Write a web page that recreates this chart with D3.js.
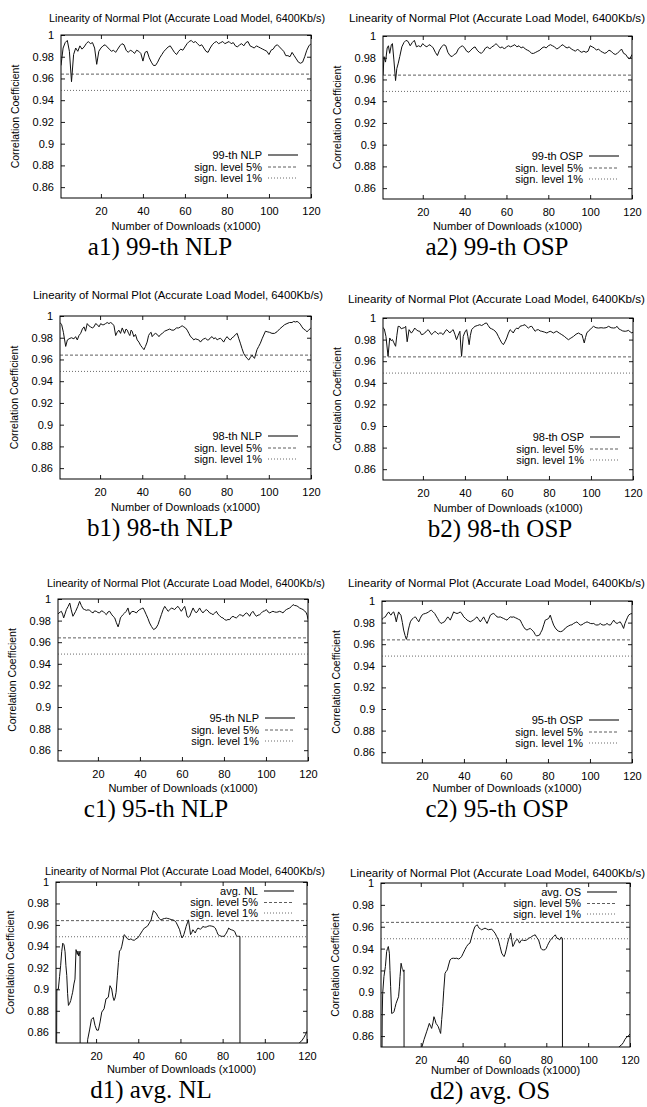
<!DOCTYPE html>
<html>
<head>
<meta charset="utf-8">
<script src="https://cdn.jsdelivr.net/npm/d3@7"></script>
<style>
  html, body { margin: 0; padding: 0; background: #fff; }
  svg { display: block; }
  text { font-family: "Liberation Sans", Arial, Helvetica, sans-serif; fill: #000; }
  .caption { font-family: "Liberation Serif", "Times New Roman", serif; }
</style>
</head>
<body>
<svg id="fig" width="647" height="1107"></svg>
<script>
// Axis ticks shared by every panel
const yTicks = [0.86, 0.88, 0.9, 0.92, 0.94, 0.96, 0.98, 1];
const xTicks = [20, 40, 60, 80, 100, 120];
const yRange = [0.85, 1];
const xRange = [1, 120];

// Critical values of the correlation coefficient
const level5 = 0.964;
const level1 = 0.949;

const chartTitle = "Linearity of Normal Plot (Accurate Load Model, 6400Kb/s)";
const xLabel = "Number of Downloads (x1000)";
const yLabel = "Correlation Coefficient";
const level5Label = "sign. level 5%";
const level1Label = "sign. level 1%";

// [downloads (x1000), correlation coefficient]
const nlp99 = [[1,.972],[2,.988],[3,.993],[4,.995],[5,.985],[6,.957],[7,.982],[8,.988],[9,.985],[10,.990],[11,.987],[12,.989],[13,.992],[14,.994],[15,.992],[16,.993],[17,.988],[18,.973],[19,.985],[20,.988],[21,.990],[22,.991],[23,.989],[24,.987],[25,.985],[26,.986],[27,.984],[28,.987],[29,.990],[30,.992],[31,.991],[32,.986],[33,.984],[34,.986],[35,.985],[36,.983],[37,.986],[38,.985],[39,.983],[40,.976],[41,.984],[42,.985],[43,.979],[44,.975],[45,.972],[46,.972],[47,.975],[48,.979],[49,.982],[50,.985],[51,.987],[52,.989],[53,.990],[54,.987],[55,.984],[56,.982],[57,.985],[58,.987],[59,.986],[60,.989],[61,.992],[62,.994],[63,.995],[64,.993],[65,.994],[66,.992],[67,.990],[68,.991],[69,.988],[70,.985],[71,.984],[72,.988],[73,.991],[74,.993],[75,.994],[76,.992],[77,.993],[78,.994],[79,.992],[80,.993],[81,.994],[82,.992],[83,.993],[84,.990],[85,.989],[86,.991],[87,.992],[88,.990],[89,.993],[90,.994],[91,.990],[92,.989],[93,.988],[94,.990],[95,.989],[96,.988],[97,.987],[98,.986],[99,.985],[100,.982],[101,.986],[102,.987],[103,.990],[104,.991],[105,.989],[106,.987],[107,.985],[108,.981],[109,.981],[110,.980],[111,.984],[112,.981],[113,.978],[114,.975],[115,.974],[116,.975],[117,.980],[118,.986],[119,.990],[120,.992]];

const osp99 = [[1,.964],[1.5,.981],[2.2,.976],[3,.989],[3.6,.991],[4.2,.984],[5,.992],[5.5,.993],[6.2,.978],[7,.959],[7.6,.970],[8.3,.975],[9,.981],[10,.990],[11,.994],[12,.996],[13,.995],[14,.991],[15,.994],[16,.996],[17,.990],[18,.991],[19,.990],[20,.993],[21,.991],[22,.990],[23,.992],[24,.991],[25,.989],[26,.985],[27,.982],[28,.987],[29,.990],[30,.992],[31,.991],[32,.985],[33,.982],[34,.981],[35,.983],[36,.984],[37,.988],[38,.990],[39,.991],[40,.989],[41,.986],[42,.985],[43,.987],[44,.989],[45,.990],[46,.987],[47,.985],[48,.984],[49,.986],[50,.989],[51,.990],[52,.988],[53,.990],[54,.991],[55,.993],[56,.991],[57,.989],[58,.990],[59,.988],[60,.990],[61,.991],[62,.990],[63,.991],[64,.992],[65,.990],[66,.991],[67,.989],[68,.990],[69,.988],[70,.987],[71,.986],[72,.984],[73,.984],[74,.985],[75,.986],[76,.987],[77,.989],[78,.990],[79,.989],[80,.991],[81,.992],[82,.991],[83,.990],[84,.988],[85,.989],[86,.991],[87,.992],[88,.990],[89,.989],[90,.990],[91,.988],[92,.987],[93,.986],[94,.988],[95,.986],[96,.985],[97,.986],[98,.985],[99,.986],[100,.991],[101,.990],[102,.989],[103,.987],[104,.988],[105,.986],[106,.985],[107,.984],[108,.985],[109,.987],[110,.986],[111,.984],[112,.983],[113,.984],[114,.986],[115,.988],[116,.984],[117,.983],[118,.980],[119,.979],[120,.983]];

const nlp98 = [[1,.994],[1.8,.992],[2.6,.985],[3.7,.972],[4.5,.978],[5.3,.979],[6.4,.980],[7.6,.979],[8.4,.981],[9.2,.978],[10,.982],[10.8,.984],[11.6,.988],[12.4,.990],[13.1,.986],[13.9,.993],[14.7,.991],[15.5,.990],[16.3,.989],[17.1,.990],[17.9,.993],[18.7,.992],[19.5,.990],[20.3,.993],[21,.992],[21.8,.992],[22.6,.993],[23.4,.994],[24.2,.993],[25,.994],[25.8,.993],[26.6,.991],[27.4,.982],[28.1,.985],[28.9,.987],[29.7,.984],[30.5,.989],[31.6,.984],[32.3,.988],[32.9,.987],[33.5,.984],[34.1,.982],[34.7,.987],[35.2,.986],[36,.981],[36.8,.983],[37.6,.978],[38.4,.976],[39.2,.973],[40,.971],[40.8,.969],[41.5,.972],[42.3,.976],[43,.982],[43.6,.984],[44.2,.985],[44.7,.981],[45.5,.983],[46.3,.984],[47.1,.983],[47.9,.981],[48.7,.983],[49.5,.984],[50.6,.986],[51.8,.987],[53,.988],[54,.987],[55,.987],[56.2,.989],[57.3,.989],[58.1,.990],[58.9,.991],[59.7,.990],[60.5,.989],[61.3,.987],[62.1,.984],[62.9,.981],[63.6,.980],[64.4,.978],[65.2,.979],[66,.9785],[66.8,.978],[67.6,.976],[68.4,.978],[69.2,.979],[70,.9795],[70.8,.978],[71.5,.978],[72.3,.980],[73.1,.981],[73.9,.979],[74.7,.980],[75.5,.978],[76.3,.979],[77.1,.9795],[77.8,.978],[78.6,.976],[79.4,.979],[80.2,.981],[81,.979],[81.8,.978],[82.6,.980],[83.4,.981],[84.2,.983],[85,.984],[85.8,.979],[86.5,.975],[87.3,.970],[88.1,.9655],[88.9,.963],[89.7,.961],[90.5,.9595],[91.3,.962],[92.1,.964],[92.7,.962],[93.2,.961],[93.8,.965],[94.4,.969],[95.2,.972],[96,.975],[96.8,.979],[97.6,.9825],[98.4,.986],[99.2,.9855],[100.3,.985],[101.5,.984],[102.7,.984],[103.9,.9855],[105.1,.988],[106.3,.990],[107.5,.992],[108.6,.993],[109.8,.994],[111,.994],[111.8,.995],[112.6,.9945],[113.4,.995],[114.2,.994],[114.9,.9925],[115.7,.990],[116.5,.988],[117.3,.987],[118.1,.9855],[118.9,.987],[119.7,.9885],[120,.989]];

const osp98 = [[1,.991],[1.6,.990],[2.4,.983],[3.4,.9645],[4.2,.9815],[4.9,.979],[5.5,.980],[6.2,.977],[7,.9738],[7.6,.984],[8.2,.9923],[9,.992],[9.7,.990],[10.5,.9907],[11.2,.991],[11.8,.9923],[12.5,.978],[13.4,.9892],[14.5,.986],[15.3,.988],[16.1,.9907],[16.9,.989],[17.7,.988],[18.5,.9877],[19.3,.9846],[20.1,.985],[20.9,.9861],[21.7,.988],[22.5,.9892],[23.3,.987],[24.1,.9846],[24.9,.986],[25.7,.9877],[26.5,.9865],[27.3,.985],[28,.9861],[28.8,.986],[29.6,.9846],[30.4,.987],[31.2,.9892],[32,.988],[32.8,.9861],[33.6,.988],[34.4,.9892],[35.2,.985],[36,.9799],[36.8,.984],[37.6,.9877],[38,.975],[38.4,.9645],[39.2,.983],[40,.987],[40.8,.9892],[41.4,.983],[42,.9753],[42.6,.984],[43.2,.9892],[44,.991],[44.8,.9923],[45.9,.993],[47.1,.9938],[47.9,.993],[48.7,.9938],[49.5,.995],[50.3,.9954],[51.1,.993],[51.9,.9907],[52.7,.990],[53.5,.9892],[54.3,.988],[55.1,.9861],[55.9,.983],[56.7,.9799],[57.5,.977],[58.3,.9753],[59.1,.978],[59.9,.9815],[60.7,.986],[61.5,.9892],[62.2,.988],[63,.9861],[63.8,.989],[64.6,.9907],[65.4,.990],[66.2,.9923],[67.4,.993],[68.6,.9938],[69.4,.992],[70.2,.9907],[71,.992],[71.8,.9923],[72.6,.990],[73.4,.9877],[74.2,.989],[75,.9892],[75.8,.988],[76.6,.9877],[77.8,.987],[79,.9861],[79.8,.987],[80.6,.9877],[81.4,.987],[82.1,.9861],[82.9,.987],[83.7,.9877],[84.9,.986],[86.1,.9846],[87.3,.983],[88.5,.981],[89.3,.9799],[90.1,.981],[90.9,.982],[91.7,.983],[92.9,.985],[94.1,.9861],[94.9,.985],[95.7,.9846],[96.2,.981],[96.8,.9769],[97.4,.982],[98,.9861],[98.8,.988],[99.6,.9892],[100.4,.991],[101.2,.9923],[102.4,.991],[103.6,.9907],[104.8,.991],[106,.9907],[107.2,.991],[108.4,.9923],[109.6,.991],[110.8,.9907],[111.6,.991],[112.4,.9923],[113.2,.990],[114,.9892],[115.1,.988],[116.3,.9877],[117.1,.988],[117.9,.9886],[118.7,.987],[119.5,.9861],[120,.987]];

const nlp95 = [[1,.986],[1.5,.9871],[2.1,.988],[2.6,.9886],[3.2,.986],[3.7,.9825],[4.3,.986],[5,.9902],[5.8,.993],[6.6,.9963],[7.3,.990],[8.1,.984],[8.7,.986],[9.4,.9886],[10.4,.993],[11.3,.9978],[12.1,.994],[12.9,.991],[13.7,.9902],[14.5,.9895],[15.3,.990],[16.1,.9895],[16.9,.988],[17.7,.9871],[18.4,.989],[19.2,.9886],[20,.9875],[20.8,.9871],[21.6,.989],[22.4,.9886],[23.2,.987],[24,.9855],[24.8,.988],[25.6,.9886],[26.4,.986],[27.2,.984],[28,.9825],[28.8,.978],[29.6,.9742],[30.2,.978],[30.7,.9825],[31.3,.984],[31.9,.9855],[32.7,.987],[33.5,.9886],[34.3,.9917],[35.1,.9855],[35.9,.988],[36.7,.9886],[37.5,.988],[38.3,.9871],[39.1,.989],[39.9,.9902],[40.7,.991],[41.5,.9917],[42.2,.989],[43,.9855],[43.8,.982],[44.6,.9778],[45.5,.9745],[46.5,.9717],[47.6,.973],[48.6,.9763],[49.4,.981],[50.2,.9855],[51,.990],[51.8,.9932],[52.6,.991],[53.4,.9886],[54.2,.990],[55,.9917],[55.8,.991],[56.5,.9902],[57.3,.992],[58.1,.9932],[58.9,.991],[59.7,.9886],[60.5,.991],[61.3,.9932],[61.9,.989],[62.4,.984],[63,.983],[63.7,.984],[64.5,.988],[65.3,.9917],[66,.989],[66.8,.9871],[67.6,.989],[68.4,.9917],[69.2,.989],[70,.9871],[70.8,.989],[71.6,.9902],[72.4,.989],[73.2,.9871],[74,.9865],[74.8,.9855],[75.6,.987],[76.4,.9886],[77.1,.986],[77.9,.9846],[78.7,.983],[79.5,.9825],[80.3,.981],[81.1,.9803],[81.9,.981],[82.7,.9809],[83.5,.983],[84.3,.984],[85.1,.983],[85.9,.9825],[86.7,.984],[87.5,.9855],[88.3,.985],[89.1,.984],[89.9,.986],[90.7,.9871],[91.5,.986],[92.2,.984],[93,.987],[93.8,.9886],[94.6,.986],[95.4,.984],[96.2,.985],[97,.9855],[97.8,.987],[98.6,.9886],[99.4,.989],[100.2,.9902],[101,.988],[101.8,.9871],[102.6,.988],[103.3,.9886],[104.1,.988],[104.9,.9877],[105.7,.988],[106.5,.9886],[107.3,.988],[108.1,.9871],[108.9,.989],[109.7,.9902],[110.5,.991],[111.3,.9917],[112.1,.993],[112.9,.9948],[113.6,.994],[114.4,.9938],[115.2,.993],[116,.9917],[116.8,.991],[117.6,.9902],[118.4,.989],[119.2,.9871],[119.6,.985],[120,.9809]];

const osp95 = [[1,.983],[1.5,.9838],[2.1,.985],[2.6,.9853],[3.4,.988],[4.2,.9899],[4.7,.988],[5.3,.9869],[5.9,.989],[6.6,.9899],[7.2,.986],[7.8,.9807],[8.4,.986],[8.9,.9899],[9.5,.988],[10,.9869],[10.7,.980],[11.3,.9731],[12,.968],[12.6,.9645],[13.1,.968],[13.5,.9731],[14,.977],[14.5,.9807],[15.2,.983],[15.8,.9838],[16.4,.985],[16.9,.9853],[17.7,.983],[18.5,.9807],[19.2,.984],[20,.9869],[20.8,.988],[21.6,.9884],[22.4,.989],[23.2,.9899],[23.9,.991],[24.5,.9914],[25.3,.990],[26.1,.9884],[26.8,.986],[27.5,.9838],[28.3,.981],[29.1,.9792],[29.9,.980],[30.7,.9807],[31.5,.983],[32.3,.9853],[32.9,.984],[33.5,.9823],[34.3,.986],[35.1,.9899],[35.9,.989],[36.7,.9884],[37.5,.989],[38.3,.9899],[39.1,.988],[39.9,.9853],[40.7,.984],[41.5,.9823],[42.3,.9815],[43,.9807],[43.8,.9815],[44.6,.9823],[45.4,.984],[46.2,.9853],[47,.983],[47.8,.9807],[48.6,.983],[49.4,.9853],[50.2,.982],[51,.9792],[51.8,.983],[52.6,.9869],[53.4,.988],[54.2,.9884],[55,.987],[55.7,.9853],[56.5,.985],[57.3,.9853],[58.1,.9845],[58.9,.9838],[59.7,.983],[60.5,.9823],[61.3,.984],[62.1,.9853],[62.9,.985],[63.7,.9853],[64.5,.9845],[65.3,.9838],[66,.983],[66.8,.9823],[67.6,.979],[68.4,.9761],[69.2,.974],[70,.9731],[70.8,.974],[71.6,.9746],[72.4,.973],[73.2,.9716],[73.9,.969],[74.5,.9676],[75.3,.968],[76,.9685],[76.6,.971],[77.2,.9731],[78,.978],[78.7,.9823],[79.5,.983],[80.3,.9838],[81.1,.9869],[81.9,.982],[82.7,.9777],[83.5,.975],[84.3,.9731],[85.1,.972],[85.9,.9716],[86.7,.972],[87.5,.9731],[88.3,.975],[89.1,.9761],[89.9,.977],[90.6,.9777],[91.4,.978],[92.2,.9792],[93,.980],[93.8,.9807],[94.6,.979],[95.4,.9777],[96.2,.978],[97,.9792],[97.8,.980],[98.6,.9807],[99.4,.980],[100.2,.9792],[101,.979],[101.8,.9792],[102.6,.978],[103.3,.9777],[104.1,.978],[104.9,.9792],[105.7,.978],[106.5,.9777],[107.3,.978],[108.1,.9792],[108.9,.978],[109.7,.9777],[110.5,.980],[111.3,.9823],[112.1,.980],[112.9,.9792],[113.6,.980],[114.4,.9807],[115.2,.978],[116,.9746],[116.6,.979],[117.3,.9823],[117.9,.985],[118.4,.9869],[119.2,.988],[120,.9884]];

// Averages drop far below the plotted range in places; those stretches are clipped
const avgNL = [[1,.70],[1.4,.900],[2.1,.900],[2.7,.912],[3.2,.922],[3.7,.935],[4.2,.943],[4.8,.9415],[5.3,.935],[5.7,.922],[6.1,.913],[6.5,.896],[6.9,.885],[7.5,.887],[8,.8896],[8.5,.894],[8.9,.8973],[9.5,.905],[10,.9095],[10.5,.937],[11.1,.9325],[11.4,.9356],[11.8,.931],[12.1,.9325],[12.4,.9356],[12.6,.52],[14,.61],[15,.77],[16,.853],[17,.863],[17.8,.872],[18.7,.8738],[19.5,.8664],[20.3,.862],[21.1,.8619],[21.9,.8696],[22.7,.8788],[23.8,.8819],[24.7,.8911],[25.8,.8926],[26.6,.9034],[27.4,.9003],[28,.893],[28.5,.8896],[29,.892],[29.5,.8972],[30.1,.9126],[30.6,.925],[31.1,.9356],[31.7,.937],[32.2,.9402],[32.8,.946],[33.3,.9509],[34.1,.9494],[34.9,.947],[35.7,.9463],[36.5,.947],[37.3,.946],[38.1,.9457],[38.9,.947],[39.7,.9478],[40.5,.950],[41.3,.9525],[42.1,.955],[42.9,.9571],[43.7,.958],[44.5,.9592],[45.3,.962],[46.1,.9647],[46.6,.969],[47.2,.9733],[47.8,.972],[48.5,.9709],[49.3,.9678],[50,.966],[50.6,.9647],[51.2,.965],[51.7,.9656],[52.5,.966],[53.3,.9663],[54,.966],[54.8,.9656],[55.6,.965],[56.4,.9647],[57.2,.964],[58,.9622],[58.8,.959],[59.6,.9555],[60.2,.951],[60.7,.9479],[61.2,.949],[61.6,.951],[62.2,.955],[62.7,.9586],[63.3,.962],[63.8,.9647],[64.3,.958],[64.8,.951],[65.4,.953],[65.9,.9555],[66.5,.954],[67,.9525],[67.6,.955],[68.3,.9571],[68.9,.9565],[69.5,.9561],[70.1,.957],[70.6,.9586],[71.4,.958],[72.2,.958],[73,.9588],[73.8,.9592],[74.6,.959],[75.4,.9586],[76,.958],[76.5,.9571],[77.2,.954],[77.8,.951],[78.6,.950],[79.4,.9494],[80,.9494],[80.7,.9494],[81.3,.951],[81.8,.9525],[82.4,.955],[82.9,.9571],[83.5,.956],[84.1,.9555],[84.9,.955],[85.7,.954],[86.5,.950],[87.1,.9494],[87.6,.9494],[88.2,.9494],[88.3,.50],[92,.56],[97,.61],[102,.64],[107,.69],[111,.74],[113.5,.80],[115.3,.848],[116.5,.8505],[117.5,.852],[118.5,.855],[119.3,.858],[120,.861]];

const avgOS = [[1,.70],[1.6,.880],[1.8,.899],[2.4,.9144],[3.1,.9235],[3.7,.9373],[4.1,.940],[4.5,.9419],[5,.9358],[5.3,.920],[5.6,.9052],[6.1,.8807],[6.6,.881],[7.2,.8823],[7.7,.886],[8.2,.8899],[8.8,.893],[9.4,.896],[9.8,.905],[10.1,.9144],[10.6,.9266],[11.1,.922],[11.4,.921],[11.7,.919],[12,.9205],[12.1,.52],[15,.60],[18,.72],[19.5,.80],[20.4,.849],[21.6,.857],[22.8,.8639],[23.5,.868],[24.1,.8716],[24.7,.869],[25.2,.867],[25.8,.872],[26.3,.8777],[26.8,.875],[27.3,.8716],[27.9,.870],[28.4,.8685],[29,.865],[29.5,.8624],[30,.875],[30.5,.8869],[31,.902],[31.6,.9174],[32.1,.919],[32.7,.9205],[33.3,.925],[34,.9297],[34.8,.931],[35.6,.9312],[36.4,.931],[37.2,.9312],[38,.9305],[38.8,.9312],[39.6,.933],[40.3,.9358],[41.1,.939],[41.9,.9419],[42.7,.944],[43.5,.945],[44.1,.949],[44.6,.9526],[45.3,.957],[45.9,.9602],[46.5,.961],[47,.9618],[47.5,.960],[47.9,.9587],[48.5,.958],[49.1,.9572],[49.9,.958],[50.7,.9587],[51.5,.958],[52.3,.9572],[53.1,.9575],[53.9,.9578],[54.7,.956],[55.5,.9541],[56.3,.951],[57.1,.948],[57.9,.942],[58.7,.9358],[59.3,.934],[59.8,.9327],[60.3,.935],[60.8,.9388],[61.4,.944],[61.9,.948],[62.5,.951],[63,.9541],[63.5,.948],[64,.9419],[64.6,.944],[65.1,.9465],[65.7,.948],[66.2,.9486],[66.7,.947],[67.2,.945],[67.8,.947],[68.3,.948],[69.1,.9475],[69.9,.9474],[70.7,.948],[71.5,.9495],[72.3,.950],[73.1,.9511],[73.9,.952],[74.7,.9526],[75.5,.950],[76.3,.948],[76.9,.944],[77.4,.9404],[78,.939],[78.7,.9388],[79.4,.939],[80,.9404],[80.6,.943],[81.1,.945],[81.9,.9475],[82.7,.9495],[83.5,.951],[84.3,.9526],[84.7,.951],[85.1,.9495],[85.8,.949],[86.4,.948],[87.1,.9505],[87.7,.9495],[87.8,.52],[92,.58],[98,.62],[104,.66],[109,.72],[112.5,.80],[114.3,.849],[115.2,.851],[116,.852],[116.8,.854],[117.6,.857],[118.4,.859],[119.2,.860],[120,.862]];

// Panel layout: plot box [left, top, width, height], title [x0, x1, baseline],
// x-axis label baseline, caption [centre x, baseline]
const panels = [
  { series: nlp99, key: "99-th NLP", caption: "a1) 99-th NLP", box: [61, 35, 250, 163],   legendAt: "bottom", title: [49, 325, 22],   xLab: 230,  cap: [160, 255] },
  { series: osp99, key: "99-th OSP", caption: "a2) 99-th OSP", box: [383, 36, 249, 163],  legendAt: "bottom", title: [349, 645, 22],  xLab: 230,  cap: [497, 255] },
  { series: nlp98, key: "98-th NLP", caption: "b1) 98-th NLP", box: [60, 316, 251, 163],  legendAt: "bottom", title: [33, 323, 299],  xLab: 511,  cap: [160, 536] },
  { series: osp98, key: "98-th OSP", caption: "b2) 98-th OSP", box: [383, 318, 250, 162], legendAt: "bottom", title: [348, 645, 303], xLab: 512,  cap: [500, 537] },
  { series: nlp95, key: "95-th NLP", caption: "c1) 95-th NLP", box: [58, 599, 250, 162],  legendAt: "bottom", title: [47, 325, 587],  xLab: 792,  cap: [156, 817] },
  { series: osp95, key: "95-th OSP", caption: "c2) 95-th OSP", box: [382, 601, 250, 162], legendAt: "bottom", title: [348, 645, 587], xLab: 792,  cap: [497, 817] },
  { series: avgNL, key: "avg. NL",   caption: "d1) avg. NL",   box: [56, 882, 251, 161],  legendAt: "top",    title: [45, 325, 875],  xLab: 1073, cap: [151, 1098] },
  { series: avgOS, key: "avg. OS",   caption: "d2) avg. OS",   box: [381, 883, 249, 164], legendAt: "top",    title: [350, 645, 877], xLab: 1074, cap: [490, 1099] }
];

const svg = d3.select("#fig");
const fmtY = v => String(+v.toFixed(2));

panels.forEach((p, i) => {
  const [L, T, W, H] = p.box;
  const x = d3.scaleLinear().domain(xRange).range([L, L + W]);
  const y = d3.scaleLinear().domain(yRange).range([T + H, T]);
  const g = svg.append("g");

  const clipId = "clip" + i;
  svg.append("defs").append("clipPath").attr("id", clipId)
    .append("rect").attr("x", L).attr("y", T).attr("width", W).attr("height", H);

  // inward ticks on all four sides
  const tickStyle = sel => {
    sel.select(".domain").remove();
    sel.selectAll(".tick line").attr("stroke", "#000").attr("stroke-width", 0.9);
    sel.selectAll(".tick text").attr("font-size", 11).style("font-family", "'Liberation Sans', Arial, sans-serif");
  };
  g.append("g").attr("transform", `translate(${L},0)`)
    .call(d3.axisLeft(y).tickValues(yTicks).tickFormat(fmtY).tickSizeInner(-4).tickSizeOuter(0).tickPadding(7))
    .call(tickStyle);
  g.append("g").attr("transform", `translate(${L + W},0)`)
    .call(d3.axisRight(y).tickValues(yTicks).tickFormat("").tickSizeInner(-4).tickSizeOuter(0))
    .call(tickStyle);
  g.append("g").attr("transform", `translate(0,${T + H})`)
    .call(d3.axisBottom(x).tickValues(xTicks).tickSizeInner(-4).tickSizeOuter(0).tickPadding(9))
    .call(tickStyle);
  g.append("g").attr("transform", `translate(0,${T})`)
    .call(d3.axisTop(x).tickValues(xTicks).tickFormat("").tickSizeInner(-4).tickSizeOuter(0))
    .call(tickStyle);

  // frame
  g.append("rect").attr("x", L).attr("y", T).attr("width", W).attr("height", H)
    .attr("fill", "none").attr("stroke", "#000").attr("stroke-width", 1);

  // significance levels
  g.append("line").attr("x1", L).attr("x2", L + W).attr("y1", y(level5)).attr("y2", y(level5))
    .attr("stroke", "#333").attr("stroke-width", 0.8).attr("stroke-dasharray", "3,2");
  g.append("line").attr("x1", L).attr("x2", L + W).attr("y1", y(level1)).attr("y2", y(level1))
    .attr("stroke", "#444").attr("stroke-width", 0.8).attr("stroke-dasharray", "1,2");

  // correlation coefficient curve
  const line = d3.line().x(d => x(d[0])).y(d => y(d[1]));
  g.append("path").datum(p.series).attr("d", line)
    .attr("clip-path", `url(#${clipId})`)
    .attr("fill", "none").attr("stroke", "#111").attr("stroke-width", 1).attr("stroke-linejoin", "round");

  // legend
  const rows = p.legendAt === "bottom" ? [T + H - 43, T + H - 31, T + H - 20] : [T + 9, T + 20.5, T + 31];
  const items = [
    { label: p.key, dash: null, color: "#111", w: 1.1 },
    { label: level5Label, dash: "3,2", color: "#333", w: 0.8 },
    { label: level1Label, dash: "1,2", color: "#444", w: 0.8 }
  ];
  items.forEach((it, k) => {
    g.append("text").attr("x", L + W - 49).attr("y", rows[k]).attr("dy", "0.35em")
      .attr("text-anchor", "end").attr("font-size", 11).text(it.label);
    g.append("line").attr("x1", L + W - 43).attr("x2", L + W - 13).attr("y1", rows[k]).attr("y2", rows[k])
      .attr("stroke", it.color).attr("stroke-width", it.w).attr("stroke-dasharray", it.dash);
  });

  // titles
  const [tx0, tx1, ty] = p.title;
  g.append("text").attr("x", tx0).attr("y", ty).attr("font-size", 11)
    .attr("textLength", tx1 - tx0).attr("lengthAdjust", "spacingAndGlyphs").text(chartTitle);
  g.append("text").attr("x", L + W / 2).attr("y", p.xLab).attr("text-anchor", "middle")
    .attr("font-size", 11).text(xLabel);
  g.append("text").attr("transform", `translate(${L - 46},${T + H / 2}) rotate(-90)`)
    .attr("text-anchor", "middle").attr("dy", "0.35em").attr("font-size", 10.5).text(yLabel);

  // caption
  g.append("text").attr("class", "caption").attr("x", p.cap[0]).attr("y", p.cap[1])
    .attr("text-anchor", "middle").attr("font-size", 25).text(p.caption);
});
</script>
</body>
</html>
